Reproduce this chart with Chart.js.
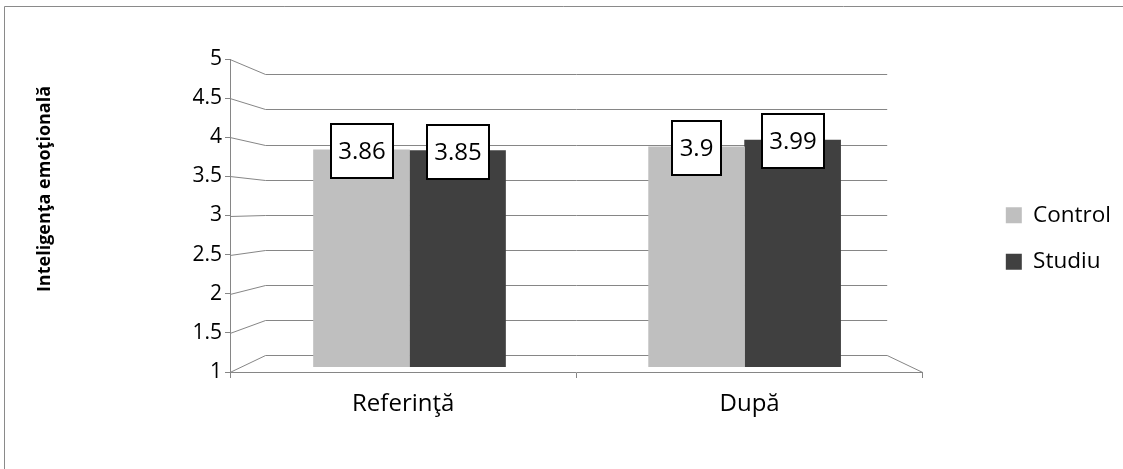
<!DOCTYPE html>
<html>
<head>
<meta charset="utf-8">
<script src="https://cdn.jsdelivr.net/npm/chart.js@4.4.1/dist/chart.umd.min.js"></script>
<style>
  html, body { margin: 0; padding: 0; background: #fff; }
  #wrap { width: 1123px; height: 469px; position: relative; }
</style>
</head>
<body>
<div id="wrap"><canvas id="c" width="1123" height="469"></canvas></div>
<script>
// ---- data ----
const categories = ['Referinţă', 'După'];
const seriesNames = ['Control', 'Studiu'];
const controlValues = [3.86, 3.9];
const studiuValues = [3.85, 3.99];
const axisTitle = 'Inteligenţa emoţională';
const yMin = 1, yMax = 5, yStep = 0.5;

// ---- style ----
const FONT = "'Open Sans', sans-serif";
const LINE = '#868686';
const COLORS = ['#BFBFBF', '#404040'];
const DEPTH_X = 35.6;          // horizontal shift from the front edge to the back wall

// back wall gridlines, side-wall diagonals and right floor edge
const wallPlugin = {
  id: 'wall',
  beforeDatasetsDraw(chart) {
    const { ctx, chartArea: a, scales: { y, yBack } } = chart;
    const px = v => Math.round(v) + 0.5;
    const bl = a.left + DEPTH_X, br = a.right - DEPTH_X;
    ctx.save();
    ctx.strokeStyle = LINE;
    ctx.lineWidth = 1;
    y.ticks.forEach(t => {
      const fy = px(y.getPixelForValue(t.value));
      const by = px(yBack.getPixelForValue(t.value));
      ctx.beginPath();
      ctx.moveTo(a.left, fy);
      ctx.lineTo(bl, by);
      ctx.lineTo(br, by);
      ctx.stroke();
    });
    ctx.beginPath();
    ctx.moveTo(br, px(yBack.getPixelForValue(yMin)));
    ctx.lineTo(a.right, px(y.getPixelForValue(yMin)));
    ctx.stroke();
    ctx.restore();
  }
};

// boxed value labels sitting on the bar tops
const valueBoxPlugin = {
  id: 'valueBoxes',
  afterDatasetsDraw(chart) {
    const { ctx } = chart;
    ctx.save();
    ctx.font = `24px ${FONT}`;
    ctx.textAlign = 'center';
    ctx.textBaseline = 'middle';
    chart.data.datasets.forEach((ds, di) => {
      chart.getDatasetMeta(di).data.forEach((bar, i) => {
        const text = String(ds.data[i].y);
        const w = Math.round(ctx.measureText(text).width + 15), h = 54;
        const x0 = Math.round(bar.x - w / 2), y0 = Math.round(bar.y + 1 - h / 2);
        ctx.fillStyle = '#fff';
        ctx.fillRect(x0, y0, w, h);
        ctx.lineWidth = 2;
        ctx.strokeStyle = '#000';
        ctx.strokeRect(x0, y0, w, h);
        ctx.fillStyle = '#000';
        ctx.fillText(text, x0 + w / 2, y0 + h / 2 + 1);
      });
    });
    ctx.restore();
  }
};

// white page, outer frame and the rotated value-axis title
const framePlugin = {
  id: 'frame',
  beforeDraw(chart) {
    const { ctx, width, height } = chart;
    ctx.save();
    ctx.fillStyle = '#fff';
    ctx.fillRect(0, 0, width, height);
    ctx.strokeStyle = '#8a8a8a';
    ctx.lineWidth = 1;
    ctx.beginPath();
    ctx.moveTo(4.5, height);
    ctx.lineTo(4.5, 6.5);
    ctx.lineTo(width, 6.5);
    ctx.stroke();
    ctx.restore();
  },
  afterDraw(chart) {
    const { ctx } = chart;
    ctx.save();
    ctx.translate(45, 189);
    ctx.rotate(-Math.PI / 2);
    ctx.font = `bold 18px ${FONT}`;
    ctx.fillStyle = '#000';
    ctx.textAlign = 'center';
    ctx.textBaseline = 'middle';
    ctx.fillText(axisTitle, 0, 0);
    ctx.restore();
  }
};

function draw() {
  const series = [controlValues, studiuValues];
  new Chart(document.getElementById('c'), {
    type: 'bar',
    data: {
      labels: categories,
      datasets: series.map((vals, s) => ({
        label: seriesNames[s],
        data: vals.map((v, i) => ({ x: i, y: v })),
        backgroundColor: COLORS[s],
        borderWidth: 0,
        xAxisID: 'xBar',
        yAxisID: 'yBar',
        base: yMin,
        barThickness: 96
      }))
    },
    options: {
      responsive: false,
      animation: false,
      events: [],
      layout: { padding: { top: 59, bottom: 51, left: 0, right: 2 } },
      plugins: {
        legend: {
          position: 'right',
          labels: {
            boxWidth: 16, boxHeight: 16, padding: 24, color: '#000',
            font: { family: FONT, size: 22.5 }
          }
        },
        tooltip: { enabled: false }
      },
      scales: {
        x: {
          type: 'category',
          offset: true,
          grid: { offset: true, drawOnChartArea: false, tickLength: 6, color: LINE },
          border: { color: LINE },
          ticks: { color: '#000', font: { family: FONT, size: 24 }, padding: 12, maxRotation: 0 },
          afterFit(s) { s.height = 46; }
        },
        xBar: {
          type: 'linear', display: false, offset: false, bounds: 'data',
          min: -0.5357, max: 1.5318
        },
        y: {
          type: 'linear',
          position: 'left',
          min: yMin, max: yMax,
          ticks: {
            stepSize: yStep, color: '#000', font: { family: FONT, size: 21 }, padding: 3,
            callback: v => String(Number(v))
          },
          grid: { drawOnChartArea: false, tickLength: 5, color: LINE },
          border: { color: LINE },
          afterFit(s) { s.width = 230; }
        },
        yBack: { type: 'linear', display: false, bounds: 'data', min: 0.762, max: 5.218 },
        yBar: {
          type: 'linear',
          position: 'right',
          bounds: 'data',
          min: 0.930, max: 5.059,
          ticks: { display: false },
          grid: { display: false },
          border: { display: false },
          afterFit(s) { s.width = 59; }
        }
      }
    },
    plugins: [framePlugin, wallPlugin, valueBoxPlugin]
  });
}

if (document.fonts && document.fonts.load) {
  Promise.all([
    document.fonts.load(`21px ${FONT}`),
    document.fonts.load(`bold 18px ${FONT}`)
  ]).then(draw, draw);
} else {
  draw();
}
</script>
</body>
</html>
